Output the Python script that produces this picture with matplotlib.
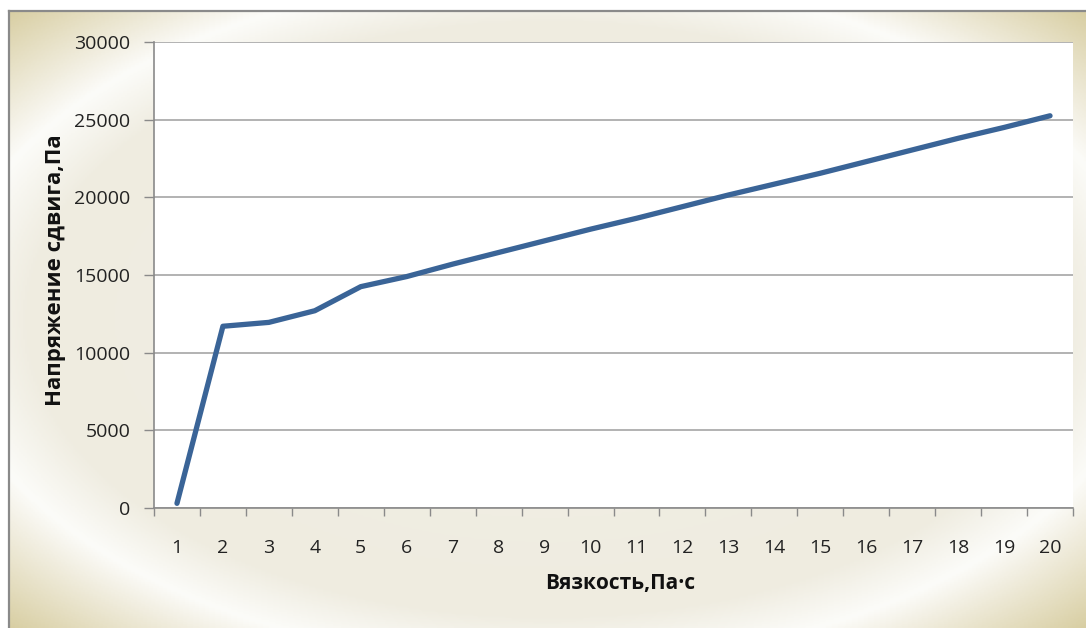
import numpy as np
import matplotlib
matplotlib.use("Agg")
import matplotlib.pyplot as plt
from matplotlib.colors import LinearSegmentedColormap

# вязкость (категории) и напряжение сдвига
viscosity = list(range(1, 21))
stress = [300, 11700, 11950, 12700, 14250, 14900, 15700, 16450, 17200, 17950,
          18650, 19400, 20150, 20850, 21550, 22300, 23050, 23800, 24500, 25250]
y_ticks = [0, 5000, 10000, 15000, 20000, 25000, 30000]

plt.rcParams['font.family'] = ['Open Sans', 'DejaVu Sans']

W, H = 1086, 628
fig = plt.figure(figsize=(W / 100, H / 100), dpi=100)
fig.patch.set_facecolor('white')

# фон рамки: градиент от бежевых углов к белой полосе и кремовой середине
x0, y0 = 9, 11
bg = fig.add_axes([x0 / W, 0, 1 - x0 / W, (H - y0) / H])
bw, bh = W - x0, H - y0
xx, yy = np.meshgrid(np.linspace(0, 1, bw // 2), np.linspace(0, 1, bh // 2))
u = np.abs(xx - 0.5) * 2
v = np.abs(yy - 0.5) * 2
t = np.sqrt(u ** 2 + v ** 2)
cmap = LinearSegmentedColormap.from_list(
    'frame', [(0.0, '#f2f0e6'), (0.68, '#efece0'), (0.79, '#fcfcf9'),
              (0.84, '#f3f0e4'), (1.0, '#d8cea2')])
bg.imshow(t, cmap=cmap, vmin=0, vmax=1.42, aspect='auto', extent=[0, 1, 1, 0])
bg.set_xlim(0, 1)
bg.set_ylim(1, 0)
bg.axis('off')
fig.add_artist(plt.Line2D([x0 / W, 1], [(H - y0) / H] * 2, color='#8a8a8a', lw=1.6))
fig.add_artist(plt.Line2D([x0 / W] * 2, [0, (H - y0) / H], color='#8a8a8a', lw=1.6))

ax = fig.add_axes([154 / W, (H - 508) / H, (1073 - 154) / W, 466 / H])
ax.set_facecolor('white')
ax.plot(viscosity, stress, color='#3a6497', lw=3.8, solid_capstyle='round',
        solid_joinstyle='round', zorder=3)

ax.set_xlim(0.5, 20.5)
ax.set_ylim(0, 30000)
ax.set_yticks(y_ticks)
ax.set_yticklabels([str(v) for v in y_ticks])
ax.set_xticks(viscosity)
ax.set_xticks(np.arange(0.5, 21, 1), minor=True)
ax.tick_params(axis='x', which='major', length=0, pad=29, labelsize=14, colors='#222222')
ax.tick_params(axis='x', which='minor', length=6, width=1, color='#8a8a8a')
ax.tick_params(axis='y', length=7, width=1, color='#8a8a8a', pad=10, labelsize=14,
               labelcolor='#222222')
for lab in ax.get_xticklabels():
    lab.set_va('center')
ax.grid(axis='y', color='#a6a6a6', lw=1.2, zorder=1)
for s in ['top', 'right']:
    ax.spines[s].set_visible(False)
for s in ['left', 'bottom']:
    ax.spines[s].set_color('#8a8a8a')
    ax.spines[s].set_linewidth(1.2)

fig.text(620 / W, 1 - 584 / H, 'Вязкость,Па·с', ha='center', va='center',
         fontsize=15, fontweight='bold', color='#111111')
fig.text(55 / W, 1 - 270 / H, 'Напряжение сдвига,Па', ha='center', va='center',
         rotation=90, fontsize=16, fontweight='bold', color='#111111')

fig.savefig('out.png', dpi=100)
